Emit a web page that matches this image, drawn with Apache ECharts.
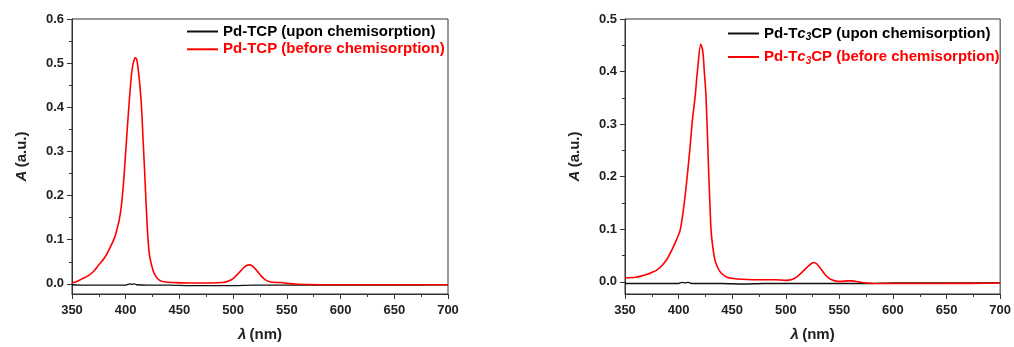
<!DOCTYPE html>
<html>
<head>
<meta charset="utf-8">
<script src="https://cdn.jsdelivr.net/npm/echarts@6.0.0/dist/echarts.min.js"></script>
<style>
  html, body { margin: 0; padding: 0; background: #fff; }
  #chart { width: 1014px; height: 347px; }
</style>
</head>
<body>
<div id="chart"></div>
<script>
// Pd-TCP, before chemisorption (red)
const tcpBeforeNm = [350, 355, 360, 365, 370, 375, 380, 385, 390, 392, 394, 396, 398, 400, 402, 403.5, 405.3, 407, 409, 410.5, 412, 413.5, 414.6, 416, 417.7, 419, 420.8, 422.5, 425.4, 428, 431.6, 437, 445, 460, 480, 490, 495, 500, 505, 510, 513, 515, 518, 522, 526, 530, 535, 540, 545, 550, 560, 580, 620, 660, 700];
const tcpBefore = [0.002, 0.006, 0.012, 0.018, 0.028, 0.043, 0.058, 0.080, 0.107, 0.125, 0.145, 0.178, 0.230, 0.300, 0.370, 0.420, 0.472, 0.500, 0.512, 0.505, 0.478, 0.440, 0.405, 0.335, 0.250, 0.180, 0.099, 0.060, 0.031, 0.017, 0.008, 0.004, 0.003, 0.002, 0.002, 0.003, 0.006, 0.012, 0.024, 0.037, 0.042, 0.043, 0.040, 0.030, 0.018, 0.009, 0.004, 0.003, 0.003, 0.001, -0.001, -0.002, -0.002, -0.002, -0.002];
// Pd-TCP, upon chemisorption (black)
const tcpUponNm = [350, 360, 380, 400, 402, 404, 406, 408, 410, 420, 440, 460, 480, 500, 520, 540, 560, 580, 600, 650, 700];
const tcpUpon = [-0.002, -0.003, -0.003, -0.003, -0.001, 0.000, -0.001, 0.000, -0.002, -0.003, -0.003, -0.004, -0.004, -0.004, -0.003, -0.003, -0.003, -0.003, -0.003, -0.003, -0.002];

// Pd-Tc3CP, before chemisorption (red)
const tc3BeforeNm = [350, 360, 365, 370, 375, 380, 385, 390, 394, 398, 401.4, 404, 406, 408.5, 410.7, 413, 415.4, 418, 420.7, 422.5, 424, 425.6, 427.8, 429, 430.3, 432, 434, 437, 440.2, 445, 451, 460, 475, 490, 500, 505, 510, 515, 520, 524, 526.3, 529, 533, 537, 541, 546, 552, 558, 562, 568, 575, 590, 650, 700];
const tc3Before = [0.008, 0.009, 0.011, 0.014, 0.018, 0.023, 0.032, 0.046, 0.062, 0.080, 0.098, 0.130, 0.162, 0.210, 0.257, 0.310, 0.352, 0.410, 0.452, 0.440, 0.400, 0.352, 0.225, 0.160, 0.098, 0.065, 0.041, 0.025, 0.016, 0.009, 0.0065, 0.005, 0.004, 0.004, 0.003, 0.004, 0.009, 0.018, 0.028, 0.035, 0.037, 0.034, 0.024, 0.013, 0.006, 0.002, 0.001, 0.002, 0.002, 0.000, -0.002, -0.003, -0.003, -0.002];
// Pd-Tc3CP, upon chemisorption (black)
const tc3UponNm = [350, 370, 390, 400, 403, 406, 409, 412, 420, 440, 460, 480, 500, 520, 540, 560, 580, 600, 650, 700];
const tc3Upon = [-0.003, -0.003, -0.003, -0.003, -0.001, -0.002, -0.001, -0.003, -0.003, -0.003, -0.004, -0.003, -0.003, -0.003, -0.003, -0.003, -0.003, -0.002, -0.002, -0.002];

const xTicks = [350, 700, 50];
const yLabelsLeft = [0, 0.1, 0.2, 0.3, 0.4, 0.5, 0.6];
const yMinorLeft = [0.05, 0.15, 0.25, 0.35, 0.45, 0.55];
const yLabelsRight = [0, 0.1, 0.2, 0.3, 0.4, 0.5];
const yMinorRight = [0.05, 0.15, 0.25, 0.35, 0.45];

const FONT = "'Liberation Sans', Arial, sans-serif";
const INK = '#222';
const zip = (xs, ys) => xs.map((x, i) => [x, ys[i]]);

const legendRich = {
  k: { color: '#000', fontSize: 15, fontWeight: 'bold', fontFamily: FONT, lineHeight: 18 },
  kc: { color: '#000', fontSize: 15, fontWeight: 'bold', fontStyle: 'italic', fontFamily: FONT, lineHeight: 18 },
  ks: { color: '#000', fontSize: 10, fontWeight: 'bold', fontStyle: 'italic', fontFamily: FONT, lineHeight: 10, verticalAlign: 'bottom' },
  r: { color: '#ff0000', fontSize: 15, fontWeight: 'bold', fontFamily: FONT, lineHeight: 18 },
  rc: { color: '#ff0000', fontSize: 15, fontWeight: 'bold', fontStyle: 'italic', fontFamily: FONT, lineHeight: 18 },
  rs: { color: '#ff0000', fontSize: 10, fontWeight: 'bold', fontStyle: 'italic', fontFamily: FONT, lineHeight: 10, verticalAlign: 'bottom' }
};

function legendText(name) {
  const s = name.indexOf('before') >= 0 ? 'r' : 'k';
  if (name.indexOf('Tc3CP') >= 0) {
    const rest = name.replace('Pd-Tc3CP', '');
    return `{${s}|Pd-T}{${s}c|c}{${s}s|3}{${s}|CP${rest}}`;
  }
  return `{${s}|${name}}`;
}

function xAxisFor(gridIndex) {
  return {
    type: 'value', gridIndex,
    min: xTicks[0], max: xTicks[1], interval: xTicks[2],
    name: '{i|λ} {n|(nm)}', nameLocation: 'middle', nameGap: 33,
    nameTextStyle: {
      rich: {
        i: { fontSize: 15, fontWeight: 'bold', fontStyle: 'italic', fontFamily: FONT, color: INK },
        n: { fontSize: 15, fontWeight: 'bold', fontFamily: FONT, color: INK }
      }
    },
    axisLine: { onZero: false, lineStyle: { color: '#333', width: 1 } },
    axisTick: { length: 5, lineStyle: { color: '#333' } },
    minorTick: { show: true, splitNumber: 2, length: 3, lineStyle: { color: '#333' } },
    splitLine: { show: false },
    axisLabel: { color: INK, fontSize: 13, fontWeight: 'bold', fontFamily: FONT, margin: 10 }
  };
}

function yAxisFor(gridIndex, max, labels) {
  return {
    type: 'value', gridIndex, min: -0.023, max,
    name: '{i|A} {n|(a.u.)}', nameLocation: 'middle', nameGap: 43,
    nameTextStyle: {
      rich: {
        i: { fontSize: 15, fontWeight: 'bold', fontStyle: 'italic', fontFamily: FONT, color: INK },
        n: { fontSize: 15, fontWeight: 'bold', fontFamily: FONT, color: INK }
      }
    },
    axisLine: { show: true, onZero: false, lineStyle: { color: '#333', width: 1 } },
    axisTick: { show: true, length: 5, customValues: labels, lineStyle: { color: '#333' } },
    splitLine: { show: false },
    axisLabel: {
      color: INK, fontSize: 13, fontWeight: 'bold', fontFamily: FONT, margin: 8,
      customValues: labels, formatter: (v) => v.toFixed(1)
    }
  };
}

function yMinorFor(gridIndex, max, ticks) {
  return {
    type: 'value', gridIndex, min: -0.023, max, position: 'left',
    axisLine: { show: false },
    axisTick: { show: true, length: 3, customValues: ticks, lineStyle: { color: '#333' } },
    axisLabel: { show: false },
    splitLine: { show: false }
  };
}

function lineSeries(name, xi, yi, data, color, width) {
  return {
    name, type: 'line', xAxisIndex: xi, yAxisIndex: yi,
    data, showSymbol: false, symbol: 'none', smooth: 0.3,
    lineStyle: { color, width }, itemStyle: { color },
    silent: true, animation: false
  };
}

const chart = echarts.init(document.getElementById('chart'), null, { renderer: 'canvas' });
chart.setOption({
  animation: false,
  backgroundColor: '#fff',
  grid: [
    { left: 72, right: 566, top: 19, bottom: 53, show: true, borderColor: '#333', borderWidth: 1 },
    { left: 625, right: 13, top: 19, bottom: 53, show: true, borderColor: '#333', borderWidth: 1 }
  ],
  legend: [
    {
      orient: 'vertical', left: 187, top: 24, padding: 0, icon: 'rect',
      itemWidth: 31, itemHeight: 2, itemGap: 2.8,
      data: ['Pd-TCP (upon chemisorption)', 'Pd-TCP (before chemisorption)'],
      formatter: legendText, textStyle: { rich: legendRich }, selectedMode: false
    },
    {
      orient: 'vertical', left: 728, top: 26, padding: 0, icon: 'rect',
      itemWidth: 31, itemHeight: 2, itemGap: 7,
      data: ['Pd-Tc3CP (upon chemisorption)', 'Pd-Tc3CP (before chemisorption)'],
      formatter: legendText, textStyle: { rich: legendRich }, selectedMode: false
    }
  ],
  xAxis: [xAxisFor(0), xAxisFor(1)],
  yAxis: [
    yAxisFor(0, 0.6, yLabelsLeft), yMinorFor(0, 0.6, yMinorLeft),
    yAxisFor(1, 0.5, yLabelsRight), yMinorFor(1, 0.5, yMinorRight)
  ],
  series: [
    lineSeries('Pd-TCP (upon chemisorption)', 0, 0, zip(tcpUponNm, tcpUpon), '#111', 1.3),
    lineSeries('Pd-TCP (before chemisorption)', 0, 0, zip(tcpBeforeNm, tcpBefore), '#ff0000', 1.6),
    lineSeries('Pd-Tc3CP (upon chemisorption)', 1, 2, zip(tc3UponNm, tc3Upon), '#111', 1.3),
    lineSeries('Pd-Tc3CP (before chemisorption)', 1, 2, zip(tc3BeforeNm, tc3Before), '#ff0000', 1.6)
  ]
});
</script>
</body>
</html>
